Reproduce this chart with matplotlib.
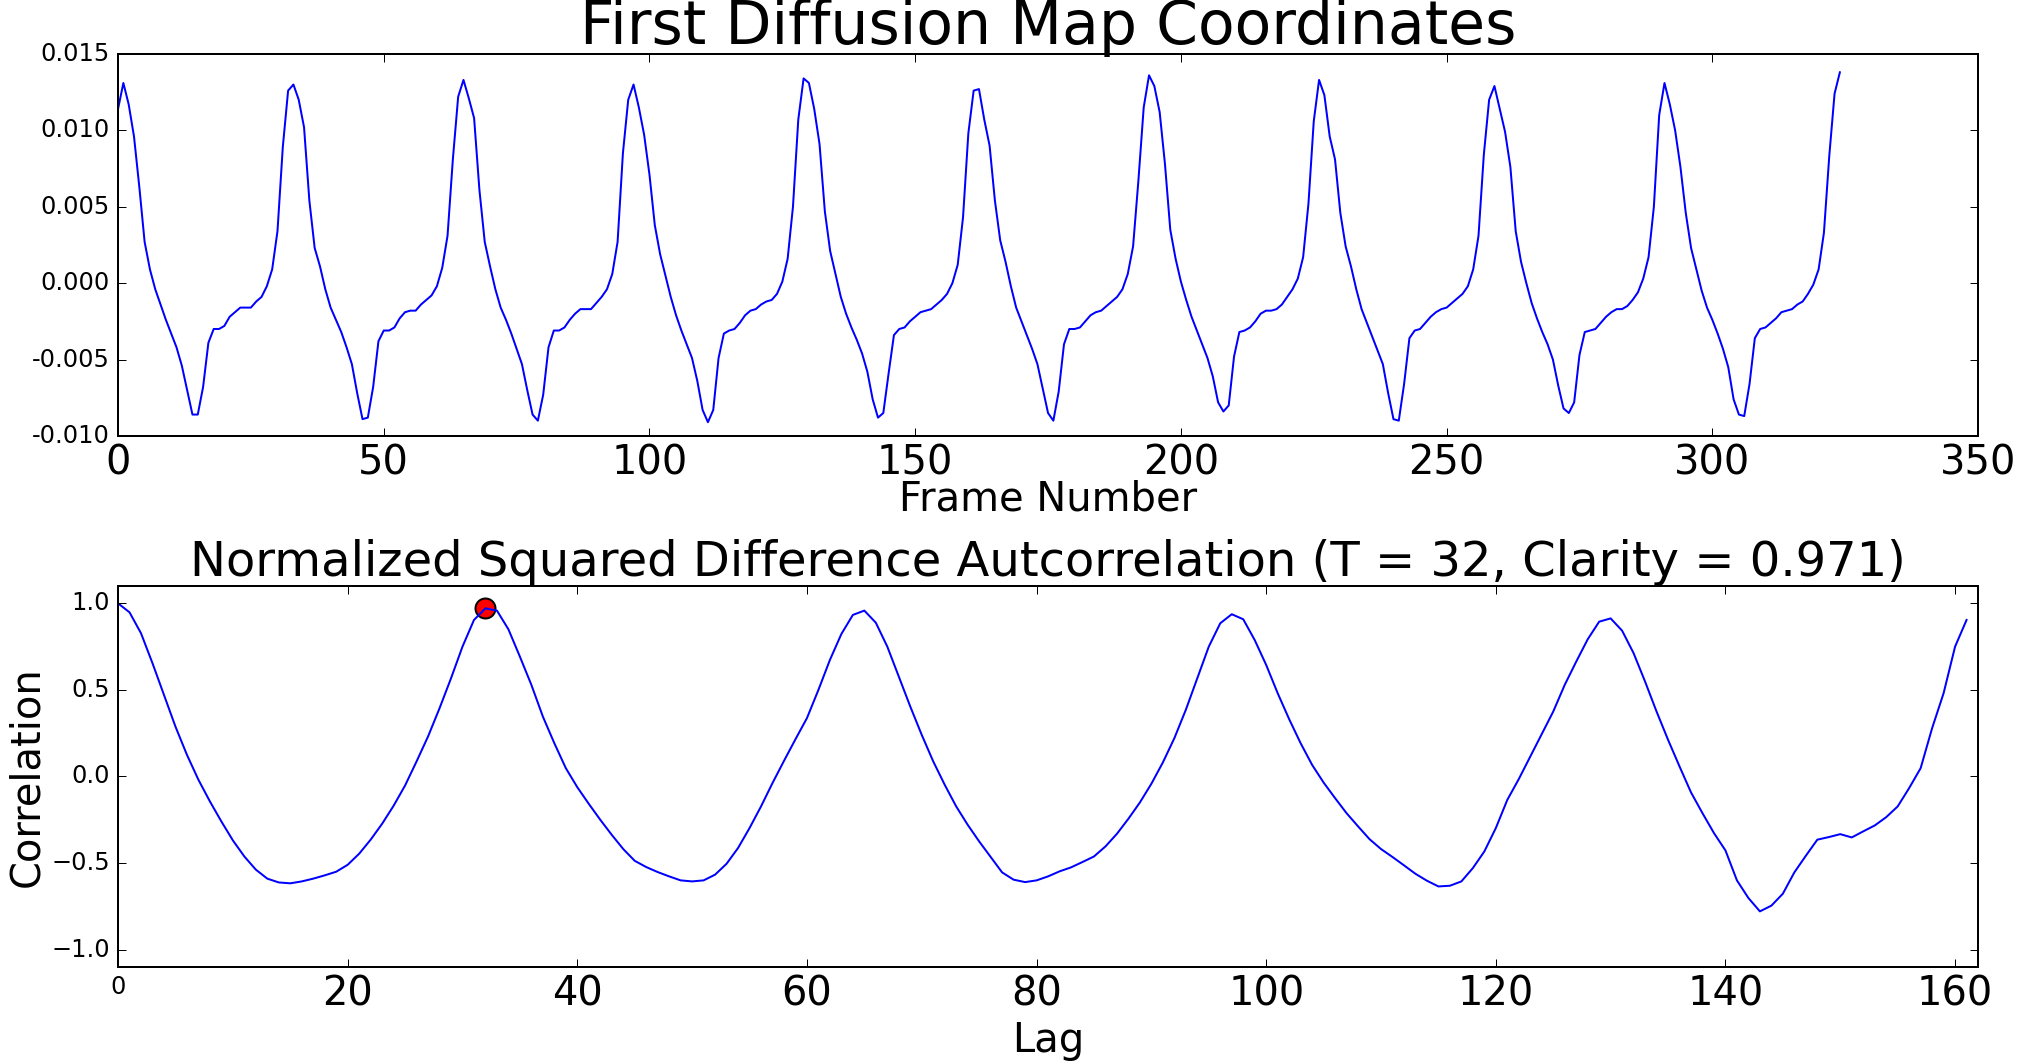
import numpy as np
import matplotlib
matplotlib.use("Agg")
from matplotlib import pyplot as plt

plt.style.use("classic")

# first diffusion map coordinate, one value per frame
coords = [
    0.0114, 0.0131, 0.0117, 0.0096, 0.0063, 0.0027, 0.0009, -0.0004, -0.0014, -0.0024,
    -0.0033, -0.0042, -0.0054, -0.0070, -0.0086, -0.0086, -0.0068, -0.0039, -0.0030, -0.0030,
    -0.0028, -0.0022, -0.0019, -0.0016, -0.0016, -0.0016, -0.0012, -0.0009, -0.0002, 0.0009,
    0.0034, 0.0089, 0.0126, 0.0130, 0.0120, 0.0102, 0.0054, 0.0023, 0.0011, -0.0004,
    -0.0016, -0.0024, -0.0032, -0.0042, -0.0053, -0.0072, -0.0089, -0.0088, -0.0068, -0.0038,
    -0.0031, -0.0031, -0.0029, -0.0023, -0.0019, -0.0018, -0.0018, -0.0014, -0.0011, -0.0008,
    -0.0002, 0.0010, 0.0031, 0.0081, 0.0122, 0.0133, 0.0121, 0.0108, 0.0061, 0.0027,
    0.0011, -0.0004, -0.0016, -0.0024, -0.0033, -0.0043, -0.0053, -0.0070, -0.0086, -0.0090,
    -0.0073, -0.0042, -0.0031, -0.0031, -0.0029, -0.0024, -0.0020, -0.0017, -0.0017, -0.0017,
    -0.0013, -0.0009, -0.0004, 0.0006, 0.0027, 0.0085, 0.0120, 0.0130, 0.0115, 0.0097,
    0.0071, 0.0038, 0.0019, 0.0005, -0.0009, -0.0021, -0.0031, -0.0040, -0.0049, -0.0064,
    -0.0083, -0.0091, -0.0083, -0.0049, -0.0033, -0.0031, -0.0030, -0.0026, -0.0021, -0.0018,
    -0.0017, -0.0014, -0.0012, -0.0011, -0.0007, 0.0001, 0.0016, 0.0050, 0.0107, 0.0134,
    0.0131, 0.0114, 0.0091, 0.0047, 0.0021, 0.0006, -0.0009, -0.0020, -0.0029, -0.0037,
    -0.0046, -0.0058, -0.0076, -0.0088, -0.0085, -0.0059, -0.0034, -0.0030, -0.0029, -0.0025,
    -0.0022, -0.0019, -0.0018, -0.0017, -0.0014, -0.0011, -0.0007, 0.0000, 0.0012, 0.0043,
    0.0098, 0.0126, 0.0127, 0.0107, 0.0090, 0.0054, 0.0028, 0.0014, -0.0002, -0.0016,
    -0.0025, -0.0034, -0.0043, -0.0053, -0.0069, -0.0085, -0.0090, -0.0071, -0.0040, -0.0030,
    -0.0030, -0.0029, -0.0025, -0.0021, -0.0019, -0.0018, -0.0015, -0.0012, -0.0009, -0.0004,
    0.0006, 0.0024, 0.0067, 0.0115, 0.0136, 0.0129, 0.0112, 0.0078, 0.0035, 0.0016,
    0.0001, -0.0011, -0.0022, -0.0031, -0.0040, -0.0049, -0.0061, -0.0078, -0.0084, -0.0080,
    -0.0048, -0.0032, -0.0031, -0.0029, -0.0025, -0.0020, -0.0018, -0.0018, -0.0017, -0.0014,
    -0.0009, -0.0004, 0.0003, 0.0017, 0.0052, 0.0106, 0.0133, 0.0123, 0.0096, 0.0081,
    0.0046, 0.0024, 0.0011, -0.0004, -0.0017, -0.0026, -0.0035, -0.0044, -0.0053, -0.0072,
    -0.0089, -0.0090, -0.0066, -0.0036, -0.0031, -0.0030, -0.0026, -0.0022, -0.0019, -0.0017,
    -0.0016, -0.0013, -0.0010, -0.0007, -0.0002, 0.0009, 0.0031, 0.0084, 0.0120, 0.0129,
    0.0114, 0.0099, 0.0076, 0.0034, 0.0014, 0.0000, -0.0013, -0.0023, -0.0032, -0.0040,
    -0.0050, -0.0067, -0.0082, -0.0085, -0.0078, -0.0047, -0.0032, -0.0031, -0.0030, -0.0026,
    -0.0022, -0.0019, -0.0017, -0.0017, -0.0015, -0.0011, -0.0006, 0.0003, 0.0017, 0.0050,
    0.0110, 0.0131, 0.0117, 0.0100, 0.0076, 0.0046, 0.0023, 0.0009, -0.0005, -0.0016,
    -0.0024, -0.0033, -0.0043, -0.0055, -0.0076, -0.0086, -0.0087, -0.0066, -0.0036, -0.0030,
    -0.0029, -0.0026, -0.0023, -0.0019, -0.0018, -0.0017, -0.0014, -0.0012, -0.0007, -0.0001,
    0.0009, 0.0033, 0.0083, 0.0124, 0.0138,
]

# normalized squared difference autocorrelation, one value per lag
corr = [
    1.0, 0.948, 0.827, 0.654, 0.471, 0.288, 0.125, -0.019, -0.144, -0.26,
    -0.369, -0.462, -0.538, -0.59, -0.612, -0.617, -0.606, -0.59, -0.571, -0.55,
    -0.51, -0.446, -0.365, -0.273, -0.169, -0.052, 0.087, 0.231, 0.394, 0.567,
    0.75, 0.904, 0.971, 0.958, 0.85, 0.692, 0.529, 0.346, 0.192, 0.048,
    -0.062, -0.158, -0.25, -0.337, -0.419, -0.487, -0.523, -0.552, -0.577, -0.6,
    -0.606, -0.6, -0.567, -0.504, -0.413, -0.298, -0.173, -0.038, 0.09, 0.215,
    0.337, 0.5, 0.673, 0.823, 0.933, 0.958, 0.888, 0.75, 0.577, 0.404,
    0.24, 0.087, -0.048, -0.173, -0.279, -0.375, -0.465, -0.554, -0.596, -0.61,
    -0.6, -0.577, -0.548, -0.525, -0.494, -0.462, -0.404, -0.331, -0.244, -0.15,
    -0.042, 0.081, 0.221, 0.385, 0.567, 0.75, 0.885, 0.937, 0.908, 0.788,
    0.644, 0.481, 0.331, 0.192, 0.067, -0.035, -0.125, -0.212, -0.288, -0.362,
    -0.419, -0.465, -0.513, -0.562, -0.602, -0.635, -0.631, -0.606, -0.529, -0.433,
    -0.298, -0.135, -0.015, 0.115, 0.246, 0.375, 0.529, 0.663, 0.792, 0.894,
    0.913, 0.842, 0.712, 0.548, 0.375, 0.212, 0.058, -0.092, -0.212, -0.327,
    -0.427, -0.6, -0.702, -0.779, -0.746, -0.677, -0.554, -0.458, -0.365, -0.35,
    -0.333, -0.352, -0.317, -0.283, -0.235, -0.173, -0.067, 0.048, 0.279, 0.481,
    0.75, 0.904,
]

T = 32
clarity = 0.971

fig = plt.figure(figsize=(2018 / 144.0, 1062 / 144.0), dpi=144)

ax1 = fig.add_axes([0.0585, 0.5895, 0.9217, 0.3597])
ax1.plot(np.arange(len(coords)), coords, 'b')
ax1.set_xlim(0, 350)
ax1.set_ylim(-0.010, 0.015)
ax1.set_xticks(np.arange(0, 351, 50))
ax1.set_yticks(np.arange(-0.010, 0.0151, 0.005))
ax1.yaxis.set_major_formatter(matplotlib.ticker.FormatStrFormatter('%.3f'))
ax1.tick_params(axis='x', labelsize=20)
ax1.tick_params(axis='y', labelsize=12)
ax1.set_title("First Diffusion Map Coordinates", fontsize=30)
ax1.set_xlabel("Frame Number", fontsize=20, labelpad=-2)

ax2 = fig.add_axes([0.0585, 0.0895, 0.9217, 0.3587])
ax2.scatter(T, clarity, 100, c='r', edgecolors='k')
ax2.plot(np.arange(len(corr)), corr, 'b')
ax2.set_xlim(0, 162)
ax2.set_ylim(-1.1, 1.1)
ax2.set_xticks(np.arange(0, 161, 20))
ax2.set_yticks([-1.0, -0.5, 0.0, 0.5, 1.0])
ax2.tick_params(axis='x', labelsize=20)
ax2.tick_params(axis='y', labelsize=12)
ax2.get_xticklabels()[0].set_fontsize(12)
ax2.set_title("Normalized Squared Difference Autcorrelation (T = %i, Clarity = %.3g)" % (T, clarity), fontsize=24)
ax2.set_xlabel("Lag", fontsize=20, labelpad=3)
ax2.set_ylabel("Correlation", fontsize=20, labelpad=2)

fig.savefig("out.png", dpi=144, facecolor='white')
